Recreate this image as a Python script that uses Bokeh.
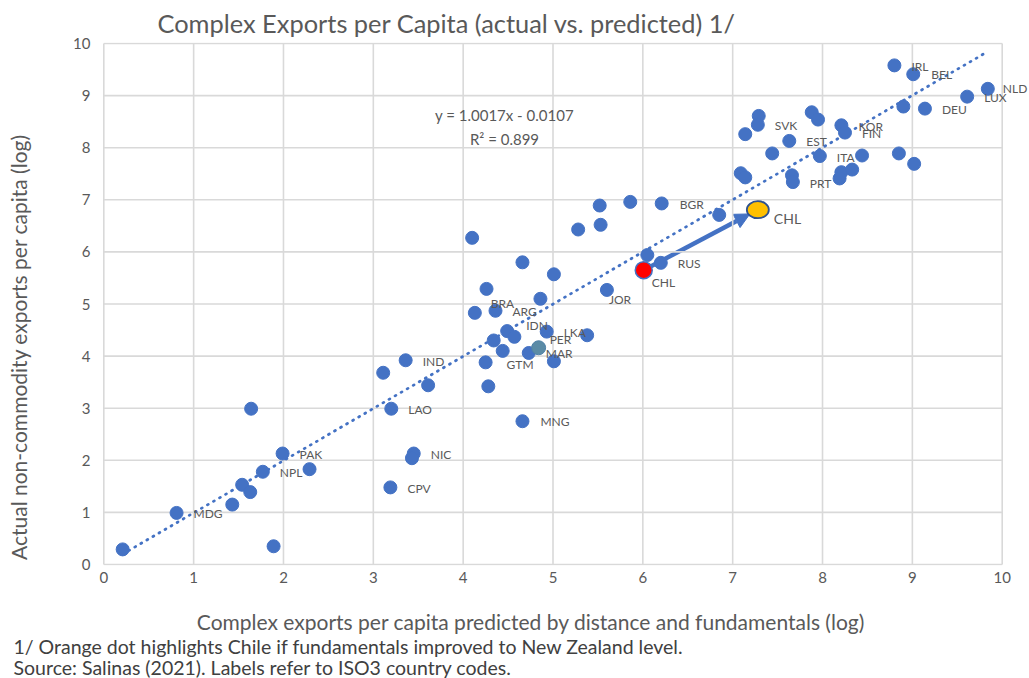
import math
from bokeh.plotting import figure
from bokeh.models import (ColumnDataSource, LabelSet, Label, Arrow, NormalHead,
                          Range1d, FixedTicker, Title, LinearAxis)
from bokeh.embed import file_html
from bokeh.resources import INLINE
from bokeh.core.properties import value

# ---------------- data ----------------
x_pred = [0.21, 0.81, 1.43, 1.54, 1.63, 1.77, 1.99, 2.29, 1.89, 1.64,
          3.11, 3.36, 3.61, 3.20, 3.45, 3.43, 3.19, 4.10, 4.66, 5.01,
          4.26, 4.86, 5.60, 4.13, 4.36, 4.49, 4.57, 4.34, 4.93, 5.38,
          4.44, 4.73, 4.25, 5.01, 4.28, 4.66, 5.52, 5.86, 5.28, 5.53,
          6.05, 6.21, 6.85, 6.20, 8.80, 9.01, 9.84, 9.61, 8.90, 9.14,
          7.29, 7.28, 7.14, 7.88, 7.95, 8.21, 8.25, 7.63, 7.44, 7.97,
          8.44, 8.85, 9.02, 7.09, 7.14, 7.66, 7.67, 8.21, 8.19, 8.33]
y_actual = [0.29, 0.99, 1.15, 1.53, 1.39, 1.78, 2.13, 1.83, 0.35, 2.99,
            3.68, 3.92, 3.44, 2.99, 2.13, 2.04, 1.48, 6.27, 5.80, 5.57,
            5.29, 5.10, 5.27, 4.83, 4.87, 4.48, 4.37, 4.30, 4.47, 4.40,
            4.10, 4.06, 3.88, 3.90, 3.42, 2.75, 6.89, 6.96, 6.43, 6.52,
            5.94, 6.93, 6.71, 5.79, 9.58, 9.41, 9.13, 8.98, 8.79, 8.75,
            8.61, 8.44, 8.26, 8.68, 8.54, 8.43, 8.29, 8.13, 7.89, 7.84,
            7.85, 7.89, 7.69, 7.51, 7.43, 7.47, 7.34, 7.53, 7.41, 7.58]
codes = ["", "MDG", "", "", "", "NPL", "PAK", "", "", "",
         "", "IND", "", "LAO", "NIC", "", "CPV", "", "", "",
         "", "", "JOR", "BRA", "ARG", "IDN", "", "", "LKA", "",
         "", "MAR", "GTM", "", "", "MNG", "", "", "", "",
         "", "BGR", "", "RUS", "IRL", "BEL", "NLD", "LUX", "", "DEU",
         "", "SVK", "", "", "", "KOR", "FIN", "EST", "", "ITA",
         "", "", "", "", "", "", "PRT", "", "", ""]

per_x, per_y = [4.84], [4.16]
chl_actual_x, chl_actual_y = [6.01], [5.65]
chl_improved_x, chl_improved_y = [7.28], [6.81]

trend_slope, trend_intercept, trend_r2 = 1.0017, -0.0107, 0.899

ticks = list(range(0, 11))
axis_min, axis_max = 0, 10

title_text = "Complex Exports per Capita (actual vs. predicted) 1/"
x_title = "Complex exports per capita predicted by distance and fundamentals (log)"
y_title = "Actual non-commodity exports per capita (log)"
note1 = "1/ Orange dot highlights Chile if fundamentals improved to New Zealand level."
note2 = "Source: Salinas (2021). Labels refer to ISO3 country codes."

# ---------------- style / geometry ----------------
BLUE = "#4472C4"
GREY_TXT = "#595959"
NOTE_TXT = "#404040"
GRID = "#D9D9D9"
FONT = "Lato"
NBSP = "\u00a0"
X_PAD = 13   # trailing non-breaking spaces: shift x title left of centre
Y_PAD = 16   # trailing non-breaking spaces: shift y title below centre

W, H = 1029, 678
GRID_L, GRID_R, GRID_T, GRID_B = 103.3, 1001.7, 42.0, 564.0   # where 0..10 sit
FR_L, FR_R, FR_T, FR_B = 102, 1029, 41, 565                    # plotting frame
ppx = (GRID_R - GRID_L) / (axis_max - axis_min)
ppy = (GRID_B - GRID_T) / (axis_max - axis_min)
x_range = Range1d(axis_min - (GRID_L - FR_L) / ppx, axis_max + (FR_R - GRID_R) / ppx)
y_range = Range1d(axis_min - (FR_B - GRID_B) / ppy, axis_max + (GRID_T - FR_T) / ppy)

default_off = (17, -1)
label_off = {"JOR": (2, -10), "BRA": (16, 9), "IDN": (19, 6), "PER": (11, 8),
             "GTM": (21, -2), "MNG": (18, 0), "BGR": (18, -1), "BEL": (18, 0),
             "NLD": (15, 0)}

p = figure(width=W, height=H, output_backend="svg", toolbar_location=None,
           x_range=x_range, y_range=y_range,
           min_border_left=FR_L, min_border_right=W - FR_R, min_border_top=FR_T,
           min_border_bottom=H - FR_B)
p.background_fill_color = "white"
p.border_fill_color = "white"
p.outline_line_color = None
p.xgrid.visible = False
p.ygrid.visible = False

for ax in (p.xaxis, p.yaxis):
    ax.ticker = FixedTicker(ticks=ticks)
    ax.axis_line_color = None
    ax.major_tick_line_color = None
    ax.minor_tick_line_color = None
    ax.major_tick_out = 0
    ax.major_tick_in = 0
    ax.minor_tick_out = 0
    ax.major_label_text_font = FONT
    ax.major_label_text_font_size = "15px"
    ax.major_label_text_color = GREY_TXT
p.xaxis.major_label_standoff = 6
p.yaxis.major_label_standoff = 12


def title_axis(label, standoff):
    return LinearAxis(ticker=FixedTicker(ticks=[]), axis_label=label,
                      axis_line_color=None, major_tick_out=0, major_tick_in=0,
                      minor_tick_out=0, major_label_standoff=0,
                      axis_label_standoff=standoff, axis_label_text_font=FONT,
                      axis_label_text_font_size="21px", axis_label_text_font_style="normal",
                      axis_label_text_color=GREY_TXT)


p.add_layout(title_axis(x_title + NBSP * X_PAD, 23), "below")
p.add_layout(title_axis(y_title + NBSP * Y_PAD, 40), "left")

# grid drawn over the 0..10 square only
p.segment(x0=ticks, y0=[axis_min] * len(ticks), x1=ticks, y1=[axis_max] * len(ticks),
          line_color=GRID, line_width=1.6)
p.segment(x0=[axis_min] * len(ticks), y0=ticks, x1=[axis_max] * len(ticks), y1=ticks,
          line_color=GRID, line_width=1.6)

# trendline across the data range
all_x = x_pred + per_x + chl_actual_x
tx = [min(all_x), max(all_x)]
ty = [trend_slope * v + trend_intercept for v in tx]
p.line(tx, ty, line_color=BLUE, line_width=2.75, line_dash="1 6", line_cap="round")

# arrow from actual Chile to improved Chile
frac = 0.93
ax_end = chl_actual_x[0] + frac * (chl_improved_x[0] - chl_actual_x[0])
ay_end = chl_actual_y[0] + frac * (chl_improved_y[0] - chl_actual_y[0])
arrow = Arrow(end=NormalHead(size=15, fill_color=BLUE, line_color=BLUE),
              x_start=chl_actual_x[0], y_start=chl_actual_y[0],
              x_end=ax_end, y_end=ay_end, line_color=BLUE, line_width=4.5,
              level="underlay")
p.add_layout(arrow)

src = ColumnDataSource(dict(x=x_pred, y=y_actual))
p.scatter("x", "y", source=src, size=13, fill_color=BLUE, line_color=BLUE)
p.scatter(per_x, per_y, size=14, fill_color="#5B8BA6", line_color="#4F81A8")
p.scatter(chl_actual_x, chl_actual_y, size=17, fill_color="#FF0000",
          line_color=BLUE, line_width=1.5)
p.ellipse(chl_improved_x, chl_improved_y, width=22, height=17,
          width_units="screen", height_units="screen",
          fill_color="#FFC000", line_color="#2F528F", line_width=1.8)

# data labels
lx, ly, lt, ldx, ldy = [], [], [], [], []
for xv, yv, c in zip(x_pred + per_x, y_actual + per_y, codes + ["PER"]):
    if c:
        dx, dy = label_off.get(c, default_off)
        lx.append(xv); ly.append(yv); lt.append(c); ldx.append(dx); ldy.append(dy)
lsrc = ColumnDataSource(dict(x=lx, y=ly, t=lt, dx=ldx, dy=ldy))
p.add_layout(LabelSet(x="x", y="y", text="t", source=lsrc, x_offset="dx", y_offset="dy",
                      text_font=value(FONT), text_font_size="12px", text_color=GREY_TXT,
                      text_align="left", text_baseline="middle"))
p.add_layout(Label(x=chl_actual_x[0], y=chl_actual_y[0], x_offset=8, y_offset=-12,
                   text="CHL", text_font=FONT, text_font_size="12px",
                   text_color=GREY_TXT, text_baseline="middle"))
p.add_layout(Label(x=chl_improved_x[0], y=chl_improved_y[0], x_offset=16, y_offset=-9,
                   text="CHL", text_font=FONT, text_font_size="14px",
                   text_color=GREY_TXT, text_baseline="middle"))

# regression equation
p.add_layout(Label(x=4.46, y=8.62, text="y = %.4fx - %.4f" % (trend_slope, -trend_intercept),
                   text_font=FONT, text_font_size="15px", text_color=GREY_TXT,
                   text_align="center", text_baseline="middle"))
p.add_layout(Label(x=4.46, y=8.17, text="R² = %.3f" % trend_r2,
                   text_font=FONT, text_font_size="15px", text_color=GREY_TXT,
                   text_align="center", text_baseline="middle"))

# chart title
p.title.text = title_text
p.title.align = "left"
p.title.offset = 157 - FR_L
p.title.text_font = FONT
p.title.text_font_size = "25.4px"
p.title.text_font_style = "normal"
p.title.text_color = GREY_TXT
p.title.standoff = 10


def note_title(text, size, standoff):
    kw = dict(text=text, align="left", offset=13 - FR_L, text_font=FONT,
              text_font_size=size, text_font_style="normal", text_color=NOTE_TXT)
    try:
        return Title(standoff=standoff, **kw)
    except Exception:
        return Title(standoff=0, **kw)


p.add_layout(note_title(note1, "19.5px", -8), "below")
p.add_layout(note_title(note2, "19.5px", 0), "below")

open("out.html", "w").write(file_html(p, INLINE))
